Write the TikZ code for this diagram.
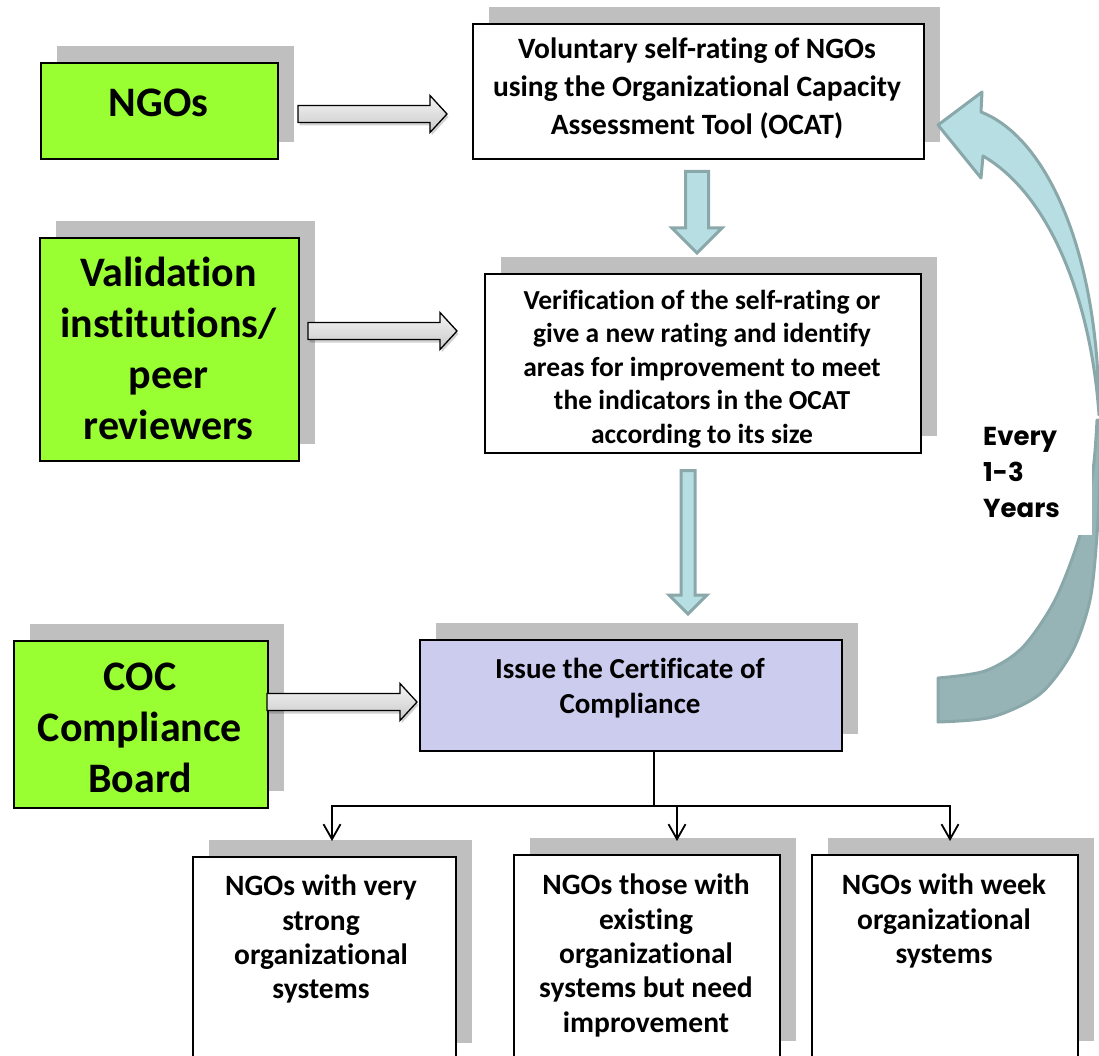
\documentclass[tikz,border=0pt]{standalone}
\usepackage{fontspec}
\setmainfont{Carlito}[Ligatures={NoCommon}]
\newfontfamily\popfont{Poppins}
\usetikzlibrary{calc,arrows.meta,shadows}
\definecolor{ngreen}{HTML}{99FF33}
\definecolor{shgray}{HTML}{BFBFBF}
\definecolor{lav}{HTML}{CCCCEE}
\definecolor{lblue}{HTML}{B7DEE3}
\definecolor{tealline}{HTML}{8AA8AA}
\definecolor{darkteal}{HTML}{96B4B6}
\newcommand\grayarrowH[2]{%
  \path[grayarr] ($(#1)+(0,-8.5)$) -- ($(#2)+(-17,-8.5)$) -- ($(#2)+(-17,-18.5)$) -- (#2)
    -- ($(#2)+(-17,18.5)$) -- ($(#2)+(-17,8.5)$) -- ($(#1)+(0,8.5)$) -- cycle;}
\newcommand\bluearrowV[5]{%
  \path[bluearr] ($(#1)+(-#3,0)$) -- ($(#2)+(-#3,-#5)$) -- ($(#2)+(-#4,-#5)$) -- (#2)
    -- ($(#2)+(#4,-#5)$) -- ($(#2)+(#3,-#5)$) -- ($(#1)+(#3,0)$) -- cycle;}
\begin{document}
\begin{tikzpicture}[x=1pt,y=-1pt,
  shbox/.style={inner sep=0pt, anchor=north west, line width=1.6pt, draw=black,
     general shadow={fill=shgray, shadow xshift=16pt, shadow yshift=17pt}},
  greenbox/.style={shbox, fill=ngreen},
  whitebox/.style={shbox, fill=white},
  lavbox/.style={shbox, fill=lav},
  gtext/.style={inner sep=0pt, align=center, font=\bfseries\fontsize{42}{51}\selectfont},
  btext/.style={inner sep=0pt, align=center, font=\bfseries\fontsize{27.5}{33.5}\selectfont},
  ctext/.style={inner sep=0pt, align=center, font=\bfseries\fontsize{29.5}{34.3}\selectfont},
  grayarr/.style={draw=black, line width=1.3pt, top color=gray!8, bottom color=gray!42,
     preaction={fill=black, opacity=0.18, transform canvas={shift={(1.5pt,-3pt)}}}},
  bluearr/.style={draw=tealline, fill=lblue, line width=3pt, line join=miter},
  conn/.style={draw=black, line width=1.8pt},
  tip/.style={-{Straight Barb[length=15pt,width=17pt,line width=1.8pt]}}
]
\useasboundingbox (0,0) rectangle (1099,1056);
\clip (0,0) rectangle (1099,1056);

% left green boxes
\node[greenbox, minimum width=237pt, minimum height=96pt] (ngo) at (40,62) {};
\node[gtext, anchor=base] (ngot) at (158.5,117) {NGOs};
\node[greenbox, minimum width=259pt, minimum height=223pt] (val) at (39,237) {};
\node[gtext, anchor=north] (valt) at (168.5,257) {Validation\\institutions/\\peer\\reviewers};
\node[greenbox, minimum width=254pt, minimum height=167pt] (coc) at (13,640) {};
\node[gtext, anchor=north] (coct) at (140,663) {COC\\Compliance\\Board};

% process boxes
\node[whitebox, minimum width=451pt, minimum height=135pt] (box1) at (472,23) {};
\node[btext, anchor=north, font=\bfseries\fontsize{29.5}{38}\selectfont] (box1t) at (697,37.5)
  {Voluntary self-rating of NGOs\\using the Organizational Capacity\\Assessment Tool (OCAT)};
\node[whitebox, minimum width=436pt, minimum height=179pt] (box2) at (484,273) {};
\node[btext, anchor=north] (box2t) at (702,290)
  {Verification of the self-rating or\\give a new rating and identify\\areas for improvement to meet\\the indicators in the OCAT\\according to its size};
\node[lavbox, minimum width=422pt, minimum height=111pt] (box3) at (419,639) {};
\node[ctext, anchor=north, font=\bfseries\fontsize{29}{35}\selectfont] (box3t) at (630,658)
  {Issue the Certificate of\\Compliance};

% bottom boxes
\node[whitebox, minimum width=263pt, minimum height=203pt] (bA) at (192,856) {};
\node[ctext, anchor=north] (bAt) at (321,875) {NGOs with very\\strong\\organizational\\systems};
\node[whitebox, minimum width=266pt, minimum height=203pt] (bB) at (513,854) {};
\node[ctext, anchor=north] (bBt) at (646,874) {NGOs those with\\existing\\organizational\\systems but need\\improvement};
\node[whitebox, minimum width=266pt, minimum height=203pt] (bC) at (811,854) {};
\node[ctext, anchor=north] (bCt) at (944,874) {NGOs with week\\organizational\\systems};

% gray block arrows
\coordinate (a1s) at (298,114); \coordinate (a1e) at (447,114);
\coordinate (a2s) at (308,331); \coordinate (a2e) at (457,331);
\coordinate (a3s) at (267,702); \coordinate (a3e) at (417,702);
\grayarrowH{a1s}{a1e}
\grayarrowH{a2s}{a2e}
\grayarrowH{a3s}{a3e}

% blue down arrows
\coordinate (d1s) at (697,171.5); \coordinate (d1e) at (697,253);
\coordinate (d2s) at (688,470.5); \coordinate (d2e) at (688,614);
\bluearrowV{d1s}{d1e}{11.5}{25}{25}
\bluearrowV{d2s}{d2e}{7}{19}{19}

% connectors to the three outcome boxes
\coordinate (jn) at (654,806);
\coordinate (tA) at (332,841);
\coordinate (tB) at (677,841);
\coordinate (tC) at (950,841);
\draw[conn] (box3.south -| jn) -- (jn);
\draw[conn, tip] (jn) -| (tA);
\draw[conn, tip] (jn) -| (tC);
\draw[conn, tip] (tB |- jn) -- (tB);

% curved ribbon arrow
\filldraw[fill=darkteal, draw=tealline, line width=3pt, line join=round]
  plot[smooth] coordinates {(1097,420) (1093,470) (1080,535) (1055,600) (1022,648) (985,671) (938,678)}
  -- plot[smooth] coordinates {(938,722) (992,717) (1040,694) (1072,652) (1090,600) (1097,535) (1100,470) (1100,420)}
  -- cycle;
\filldraw[fill=lblue, draw=tealline, line width=3pt, line join=round]
  (938,125) -- (982,92) -- (981,112) .. controls (1048,138) and (1099,255) .. (1099,415)
  .. controls (1091,300) and (1050,195) .. (983,156) -- (981,178) -- cycle;
\fill[white] (965,398) rectangle (1092,535);
\node[inner sep=0pt, anchor=north west, align=left, font=\popfont\bfseries\fontsize{26}{36}\selectfont]
  (every) at (983,427) {Every\\1-3\\Years};
\end{tikzpicture}
\end{document}
